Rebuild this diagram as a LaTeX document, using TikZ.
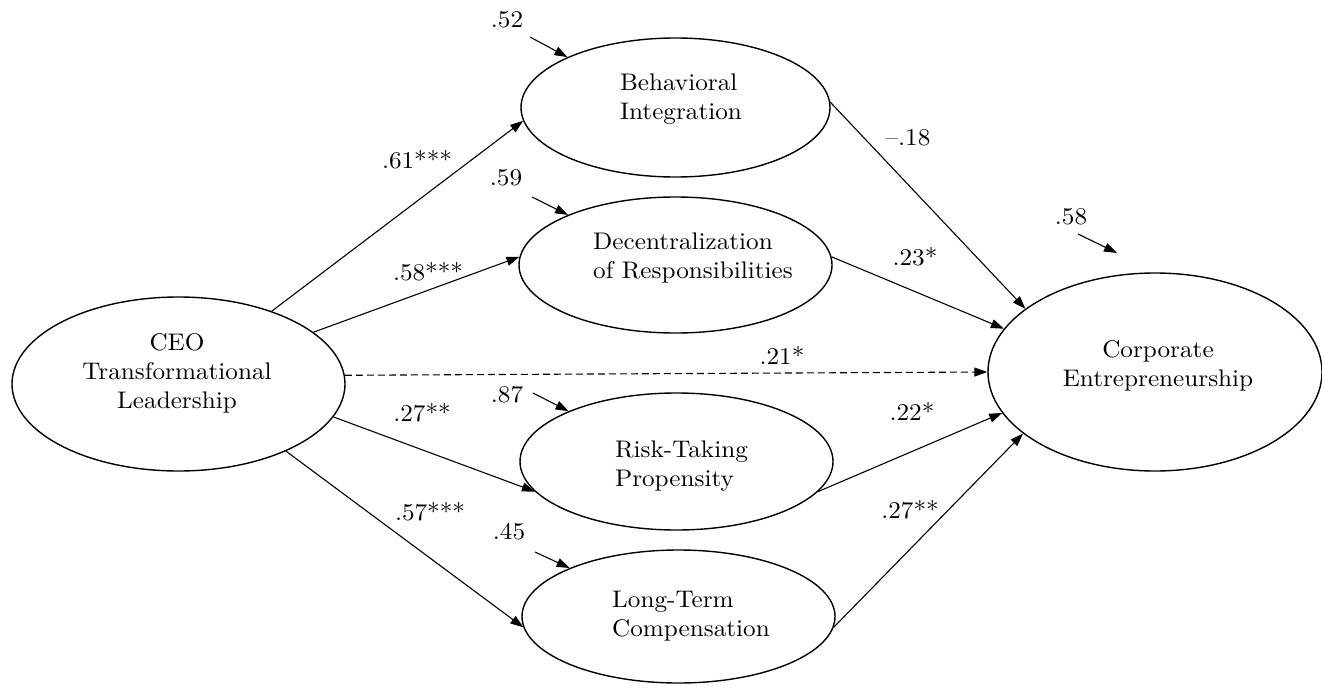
\documentclass[tikz,border=0pt]{standalone}
\usepackage{fontspec}
\setmainfont{lmroman10-regular.otf}[FakeStretch=1.05]
\usetikzlibrary{shapes.geometric,arrows.meta}
\begin{document}
\begin{tikzpicture}[x=1pt,y=-1pt,
  latent/.style={draw, ellipse, line width=1.4pt, inner sep=0pt},
  lab/.style={font=\fontsize{24}{29}\selectfont, inner sep=0pt},
  num/.style={font=\fontsize{24}{29}\selectfont, inner sep=0pt},
  pathar/.style={line width=1.1pt, -{Triangle[length=13pt,width=9pt]}},
  dashar/.style={pathar, dash pattern=on 7pt off 4pt}]
\useasboundingbox (0,0) rectangle (1322,688);

% latent variables
\node[latent, minimum width=333pt, minimum height=174pt] (ceo) at (178.5,384) {};
\node[lab, align=center] (ceot) at (177,373) {CEO\\Transformational\\Leadership};

\node[latent, minimum width=309pt, minimum height=139pt] (bi) at (675.5,107.5) {};
\node[lab, align=left] (bit) at (681,99) {Behavioral\\Integration};

\node[latent, minimum width=313pt, minimum height=136pt] (dec) at (675.5,265) {};
\node[lab, align=left] (dect) at (693,258) {Decentralization\\of Responsibilities};

\node[latent, minimum width=313pt, minimum height=137pt] (risk) at (676.5,461.5) {};
\node[lab, align=left] (riskt) at (681.5,466) {Risk-Taking\\Propensity};

\node[latent, minimum width=313pt, minimum height=133pt] (ltc) at (678.5,616.5) {};
\node[lab, align=left] (ltct) at (691,616) {Long-Term\\Compensation};

\node[latent, minimum width=334pt, minimum height=198pt] (ce) at (1155,372) {};
\node[lab, align=center] (cet) at (1158,366) {Corporate\\Entrepreneurship};

% structural paths
\draw[pathar] (ceo.38) -- (bi.185);
\draw[pathar] (ceo.21) -- (dec.177);
\draw[dashar] (ceo.3.5) -- (ce.180);
\draw[pathar] (ceo.-12) -- (risk.192);
\draw[pathar] (ceo.-32) -- (ltc.184);
\draw[pathar] (bi.2) -- (ce.154.5);
\draw[pathar] (dec.3) -- (ce.164.5);
\draw[pathar] (risk.-12) -- (ce.195.5);
\draw[pathar] (ltc.-4) -- (ce.205.5);

% path coefficients
\node[num] (c1) at (417,160) {.61***};
\node[num] (c2) at (428,272) {.58***};
\node[num] (c3) at (782,355) {.21*};
\node[num] (c4) at (422,413) {.27**};
\node[num] (c5) at (430,512) {.57***};
\node[num] (c6) at (908,138) {--.18};
\node[num] (c7) at (915,257) {.23*};
\node[num] (c8) at (912,411) {.22*};
\node[num] (c9) at (910,510) {.27**};

% residual arrows
\coordinate (e1) at (530,37);
\coordinate (e2) at (532,197);
\coordinate (e3) at (533,393);
\coordinate (e4) at (535,552);
\coordinate (e5) at (1078,234);
\coordinate (e5t) at (1117,253);
\draw[pathar] (e1) -- (bi.155);
\draw[pathar] (e2) -- (dec.155);
\draw[pathar] (e3) -- (risk.155);
\draw[pathar] (e4) -- (ltc.156);
\draw[pathar] (e5) -- (e5t);

\node[num] (r1) at (507,20) {.52};
\node[num] (r2) at (506,178) {.59};
\node[num] (r3) at (507,395) {.87};
\node[num] (r4) at (509,532) {.45};
\node[num] (r5) at (1071,217) {.58};
\end{tikzpicture}
\end{document}
